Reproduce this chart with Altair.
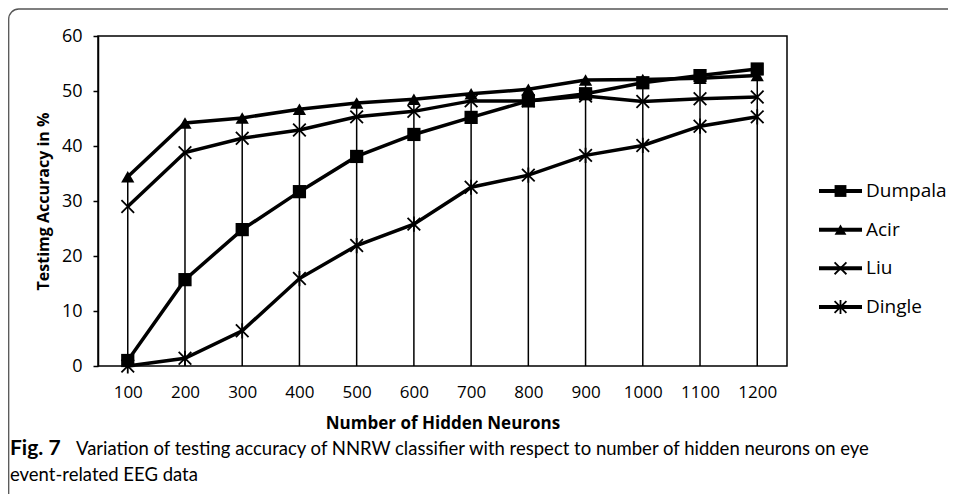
import altair as alt
import pandas as pd

neurons = [100, 200, 300, 400, 500, 600, 700, 800, 900, 1000, 1100, 1200]
dumpala = [1.0, 15.7, 24.8, 31.7, 38.1, 42.1, 45.2, 48.2, 49.5, 51.5, 52.8, 54.0]
acir = [34.4, 44.2, 45.1, 46.7, 47.8, 48.5, 49.5, 50.3, 52.0, 52.1, 52.3, 52.8]
liu = [29.0, 38.8, 41.4, 42.9, 45.3, 46.3, 48.2, 48.2, 49.1, 48.1, 48.6, 48.9]
dingle = [0.0, 1.4, 6.4, 15.9, 21.9, 25.8, 32.5, 34.7, 38.3, 40.1, 43.6, 45.3]
series_names = ["Dumpala", "Acir", "Liu", "Dingle"]
series_values = [dumpala, acir, liu, dingle]

y_title = "Testimg Accuracy in %"
x_title = "Number of Hidden Neurons"
cap_bold = "Fig. 7"
cap_line1 = "Variation of testing accuracy of NNRW classifier with respect to number of hidden neurons on eye"
cap_line2 = "event-related EEG data"

rows = []
for name, vals in zip(series_names, series_values):
    for n, v in zip(neurons, vals):
        rows.append({"n": n, "series": name, "value": v})
df = pd.DataFrame(rows)

FONT = "Open Sans"
CAPFONT = "Lato"

XPATH = "M-1,-1L1,1M-1,1L1,-1"
STARPATH = "M-1,-1L1,1M-1,1L1,-1M0,-1.2L0,1.2"
shape_scale = alt.Scale(domain=series_names, range=["square", "triangle-up", XPATH, STARPATH])
x_scale = alt.Scale(type="point", padding=0.52)

x_enc = alt.X("n:O", scale=x_scale,
              axis=alt.Axis(title=x_title, labelAngle=0, labelAlign="center", ticks=False,
                            domain=False, labelFont=FONT, labelFontSize=17, labelColor="black",
                            labelPadding=26, titleFont=FONT, titleFontSize=17,
                            titleFontWeight="bold", titleColor="black", titlePadding=15))
y_scale = alt.Scale(domain=[0, 60], nice=False)
y_enc = alt.Y("value:Q", scale=y_scale,
              axis=alt.Axis(title=y_title, values=[0, 10, 20, 30, 40, 50, 60], grid=False,
                            tickSize=5, tickColor="black", tickWidth=1.5, domainColor="black",
                            domainWidth=1.5, labelFont=FONT, labelFontSize=18,
                            labelColor="black", labelPadding=11, titleFont=FONT,
                            titleFontSize=16, titleFontWeight="bold", titleColor="black",
                            titlePadding=10))

base = alt.Chart(df)

drop = base.transform_aggregate(top="max(value)", groupby=["n"]).mark_rule(
    color="black", strokeWidth=1.5).encode(
    x=alt.X("n:O", scale=x_scale),
    y=alt.Y("top:Q", scale=y_scale),
    y2=alt.datum(0),
)

lines = base.mark_line(color="black", strokeWidth=3.5).encode(
    x=x_enc, y=y_enc, detail="series:N")

pts_filled = base.transform_filter(
    alt.FieldOneOfPredicate(field="series", oneOf=["Dumpala", "Acir"])
).mark_point(filled=True, color="black", size=175, opacity=1).encode(
    x=alt.X("n:O", scale=x_scale),
    y=alt.Y("value:Q", scale=y_scale),
    shape=alt.Shape("series:N", scale=shape_scale, legend=None),
)
pts_open = base.transform_filter(
    alt.FieldOneOfPredicate(field="series", oneOf=["Liu", "Dingle"])
).mark_point(filled=False, color="black", size=160, strokeWidth=1.8, opacity=1).encode(
    x=alt.X("n:O", scale=x_scale),
    y=alt.Y("value:Q", scale=y_scale),
    shape=alt.Shape("series:N", scale=shape_scale, legend=None),
)

main = alt.layer(drop, lines, pts_filled, pts_open)

# legend
leg_df = pd.DataFrame({"series": series_names})
leg_y = alt.Y("series:N", scale=alt.Scale(type="point", domain=series_names,
                                          range=[155, 271], padding=0), axis=None)
leg_line = alt.Chart(leg_df).mark_rule(color="black", strokeWidth=4).encode(
    x=alt.value(721), x2=alt.value(764), y=leg_y)
leg_pf = alt.Chart(leg_df).transform_filter(
    alt.FieldOneOfPredicate(field="series", oneOf=["Dumpala", "Acir"])
).mark_point(filled=True, color="black", size=140, opacity=1).encode(
    x=alt.value(742.5), y=leg_y,
    shape=alt.Shape("series:N", scale=shape_scale, legend=None))
leg_po = alt.Chart(leg_df).transform_filter(
    alt.FieldOneOfPredicate(field="series", oneOf=["Liu", "Dingle"])
).mark_point(filled=False, color="black", size=140, strokeWidth=1.8, opacity=1).encode(
    x=alt.value(742.5), y=leg_y,
    shape=alt.Shape("series:N", scale=shape_scale, legend=None))
leg_txt = alt.Chart(leg_df).mark_text(align="left", baseline="middle", font=FONT,
                                      fontSize=19, color="black").encode(
    x=alt.value(768), y=leg_y, text="series:N")
legend = alt.layer(leg_line, leg_pf, leg_po, leg_txt)

# caption and frame (single-row data so each is drawn once)
one = pd.DataFrame({"k": [0]})
frame = alt.Chart(one).mark_rect(fillOpacity=0, stroke="#555555", strokeWidth=1.3,
                                 cornerRadius=10).encode(
    x=alt.value(-89.3), x2=alt.value(900), y=alt.value(-27), y2=alt.value(520))
cap1b = alt.Chart(one).mark_text(text=cap_bold, align="left", baseline="alphabetic",
                                 font=CAPFONT, fontSize=21, fontWeight="bold",
                                 color="black").encode(
    x=alt.value(-88), y=alt.value(419))
cap1 = alt.Chart(one).mark_text(text=cap_line1, align="left", baseline="alphabetic",
                                font=CAPFONT, fontSize=18.5, color="black").encode(
    x=alt.value(-22), y=alt.value(419))
cap2 = alt.Chart(one).mark_text(text=cap_line2, align="left", baseline="alphabetic",
                                font=CAPFONT, fontSize=18.5, color="black").encode(
    x=alt.value(-88), y=alt.value(445))
annot = alt.layer(frame, cap1b, cap1, cap2)

chart = alt.layer(main, legend, annot).resolve_scale(y="independent", x="independent").properties(
    width=689, height=330, autosize="none",
    padding={"left": 90, "top": 28, "right": 161, "bottom": 128},
    background="white",
).configure_view(stroke="black", strokeWidth=1.5)

chart.save("out.html", embed_options={"renderer": "svg", "actions": False})
